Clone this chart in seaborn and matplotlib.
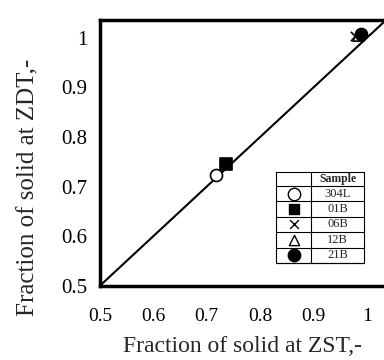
import matplotlib
matplotlib.use('Agg')
import seaborn as sns
import matplotlib.pyplot as plt
import pandas as pd

# Data
samples = ['304L', '01B', '06B', '12B', '21B']
fs_zst = [0.717, 0.736, 0.978, 0.982, 0.988]
fs_zdt = [0.724, 0.745, 1.003, 1.006, 1.008]
markers = ['o', 's', 'x', '^', 'o']
filled = [False, True, False, False, True]
x_ticks = [0.5, 0.6, 0.7, 0.8, 0.9, 1.0]
x_labels = ['0.5', '0.6', '0.7', '0.8', '0.9', '1']
y_ticks = [0.5, 0.6, 0.7, 0.8, 0.9, 1.0]
y_labels = ['0.5', '0.6', '0.7', '0.8', '0.9', '1']

df = pd.DataFrame({'sample': samples, 'zst': fs_zst, 'zdt': fs_zdt})

sns.set_style('white')
plt.rcParams['font.family'] = ['Liberation Serif', 'DejaVu Serif']

fig = plt.figure(figsize=(3.84, 3.6), dpi=100)
ax = fig.add_axes([0.26, 0.206, 0.745, 0.738])

# y = x reference line
sns.lineplot(x=[0.5, 1.04], y=[0.5, 1.04], color='black', lw=1.5, ax=ax)

for s, m, f in zip(samples, markers, filled):
    d = df[df['sample'] == s]
    if m == 'x':
        ax.scatter(d['zst'], d['zdt'], marker='x', s=45, color='black', lw=1.2, zorder=3)
    else:
        ax.scatter(d['zst'], d['zdt'], marker=m, s=75 if m == 'o' else 65,
                   facecolor='black' if f else 'white', edgecolor='black', lw=1.2, zorder=3)

ax.set_xlim(0.5, 1.035)
ax.set_ylim(0.5, 1.035)
ax.set_xticks(x_ticks)
ax.set_xticklabels(x_labels)
ax.set_yticks(y_ticks)
ax.set_yticklabels(y_labels)
ax.tick_params(direction='in', length=6, width=2.2, colors='black')
ax.tick_params(axis='x', pad=16, labelsize=14)
ax.tick_params(axis='y', pad=9, labelsize=15)
for side in ['left', 'bottom', 'top']:
    ax.spines[side].set_linewidth(2.5)
    ax.spines[side].set_color('black')
ax.spines['right'].set_visible(False)
ax.set_xlabel('Fraction of solid at ZST,-', fontsize=17)
ax.set_ylabel('Fraction of solid at ZDT,-', fontsize=18)
ax.xaxis.set_label_coords(0.5, -0.19)
ax.yaxis.set_label_coords(-0.21, 0.37)

# table-style legend
x0, xm, x1 = 0.616, 0.739, 0.923
ytop, yhead, ybot = 0.429, 0.376, 0.086
rh = (yhead - ybot) / len(samples)
lkw = dict(color='black', lw=0.8, transform=ax.transAxes, clip_on=False)
ax.plot([x0, x1, x1, x0, x0], [ytop, ytop, ybot, ybot, ytop], **lkw)
ax.plot([xm, xm], [ytop, ybot], **lkw)
ax.plot([x0, x1], [yhead, yhead], **lkw)
ax.text((xm + x1) / 2, (ytop + yhead) / 2, 'Sample', ha='center', va='center',
        fontsize=8.5, fontweight='bold', transform=ax.transAxes)
for i, (s, m, f) in enumerate(zip(samples, markers, filled)):
    yc = yhead - rh * (i + 0.5)
    ax.plot([x0, x1], [yhead - rh * (i + 1)] * 2, **lkw)
    ax.text((xm + x1) / 2, yc, s, ha='center', va='center', fontsize=9,
            transform=ax.transAxes)
    if m == 'x':
        ax.scatter([(x0 + xm) / 2], [yc], marker='x', s=40, color='black', lw=1,
                   transform=ax.transAxes, clip_on=False)
    else:
        ax.scatter([(x0 + xm) / 2], [yc], marker=m, s=80 if m == 'o' else 55,
                   facecolor='black' if f else 'white', edgecolor='black', lw=1,
                   transform=ax.transAxes, clip_on=False)

plt.savefig('out.png', dpi=100)
plt.close()
